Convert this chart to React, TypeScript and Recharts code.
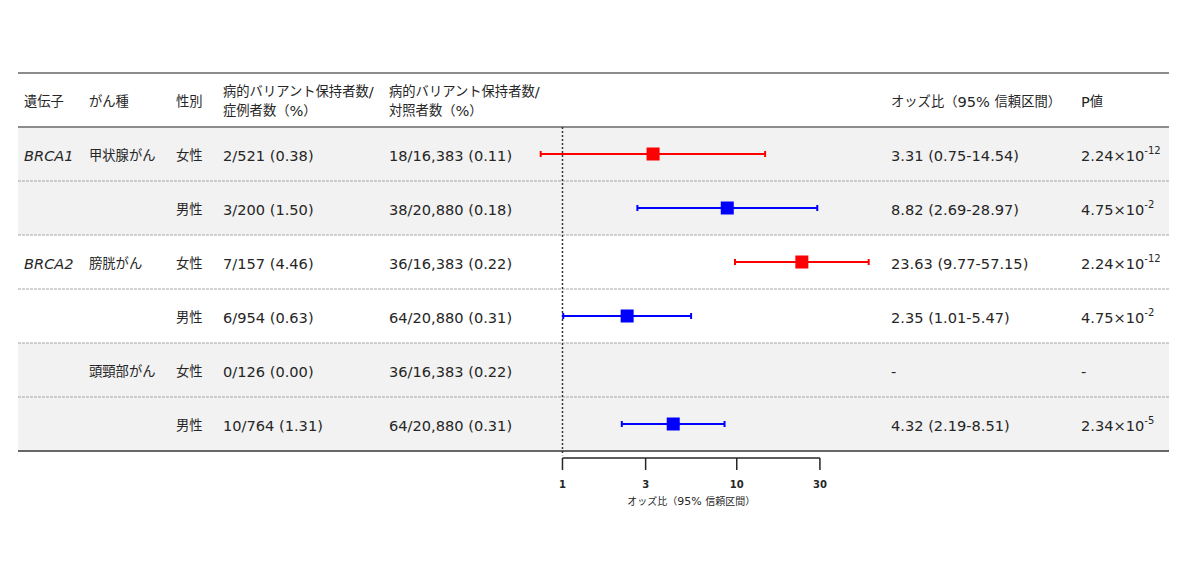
import React from 'react';
import {
  ScatterChart, Scatter, XAxis, YAxis, ErrorBar, ReferenceArea, ReferenceLine,
} from 'recharts';

// ---- data ----
const genes = ['BRCA1', '', 'BRCA2', '', '', ''];
const cancers = ['甲状腺がん', '', '膀胱がん', '', '頭頸部がん', ''];
const sexes = ['女性', '男性', '女性', '男性', '女性', '男性'];
const caseCounts = ['2/521 (0.38)', '3/200 (1.50)', '7/157 (4.46)', '6/954 (0.63)', '0/126 (0.00)', '10/764 (1.31)'];
const controlCounts = ['18/16,383 (0.11)', '38/20,880 (0.18)', '36/16,383 (0.22)', '64/20,880 (0.31)', '36/16,383 (0.22)', '64/20,880 (0.31)'];
const oddsRatios: (number | null)[] = [3.31, 8.82, 23.63, 2.35, null, 4.32];
const ciLows: (number | null)[] = [0.75, 2.69, 9.77, 1.01, null, 2.19];
const ciHighs: (number | null)[] = [14.54, 28.97, 57.15, 5.47, null, 8.51];
const pMantissas: (string | null)[] = ['2.24', '4.75', '2.24', '4.75', null, '2.34'];
const pExponents: (string | null)[] = ['-12', '-2', '-12', '-2', null, '-5'];
const shadedRows = [0, 1, 4, 5];
const xTicks = [1, 3, 10, 30];

const headers = {
  gene: '遺伝子',
  cancer: 'がん種',
  sex: '性別',
  case: ['病的バリアント保持者数/', '症例者数（%）'],
  control: ['病的バリアント保持者数/', '対照者数（%）'],
  or: 'オッズ比（95% 信頼区間）',
  p: 'P値',
};
const axisTitle = 'オッズ比（95% 信頼区間）';

// ---- layout ----
const W = 1200;
const H = 566;
const LOG_MIN = -3.124;
const LOG_MAX = 3.48;
const NROWS = sexes.length;
const COL = { gene: 24, cancer: 89, sex: 176, case: 223, control: 389, or: 891, p: 1081 };
const FONT = "'DejaVu Sans','Noto Sans CJK JP',sans-serif";
const TEXT_COLOR = '#262626';
const RED = '#ff0000';
const BLUE = '#0000ff';

const rowData = sexes.map((s, i) => ({
  y: i + 1.5,
  or: oddsRatios[i],
  err: oddsRatios[i] != null ? [oddsRatios[i]! - ciLows[i]!, ciHighs[i]! - oddsRatios[i]!] : null,
  sex: s,
}));
const femaleData = rowData.filter((d) => d.sex === '女性' && d.or != null);
const maleData = rowData.filter((d) => d.sex === '男性' && d.or != null);

const CJK_RE = /[\u3000-\u9fff\uff00-\uffef]+|[^\u3000-\u9fff\uff00-\uffef]+/g;
const isCJK = (s: string) => /[\u3000-\u9fff\uff00-\uffef]/.test(s);

function MixedText({ x, y, text, latin = 14.6, cjk = 13.3, italic = false, weight = 'normal', anchor = 'start' }: any) {
  const runs: string[] = text.match(CJK_RE) || [];
  return (
    <text x={x} y={y} dominantBaseline="central" fill={TEXT_COLOR} fontFamily={FONT}
      fontStyle={italic ? 'italic' : 'normal'} fontWeight={weight} textAnchor={anchor}>
      {runs.map((r, k) => (
        <tspan key={k} fontSize={isCJK(r) ? cjk : latin}>{r}</tspan>
      ))}
    </text>
  );
}

function RowTick(props: any) {
  const { y, payload } = props;
  const v = payload.value;
  const idx = Math.floor(v) - 1;
  if (idx < 0) {
    return (
      <g>
        <MixedText x={COL.gene} y={y + 1} text={headers.gene} />
        <MixedText x={COL.cancer} y={y + 1} text={headers.cancer} />
        <MixedText x={COL.sex} y={y + 1} text={headers.sex} />
        <MixedText x={COL.case} y={y - 9} text={headers.case[0]} />
        <MixedText x={COL.case} y={y + 10} text={headers.case[1]} />
        <MixedText x={COL.control} y={y - 9} text={headers.control[0]} />
        <MixedText x={COL.control} y={y + 10} text={headers.control[1]} />
        <MixedText x={COL.or} y={y + 1} text={headers.or} />
        <MixedText x={COL.p} y={y + 1} text={headers.p} />
      </g>
    );
  }
  const or = oddsRatios[idx];
  const orText = or != null ? `${or.toFixed(2)} (${ciLows[idx]!.toFixed(2)}-${ciHighs[idx]!.toFixed(2)})` : '-';
  return (
    <g>
      {genes[idx] && <MixedText x={COL.gene} y={y + 1} text={genes[idx]} italic />}
      {cancers[idx] && <MixedText x={COL.cancer} y={y + 1} text={cancers[idx]} />}
      <MixedText x={COL.sex} y={y + 1} text={sexes[idx]} />
      <MixedText x={COL.case} y={y + 1} text={caseCounts[idx]} />
      <MixedText x={COL.control} y={y + 1} text={controlCounts[idx]} />
      <MixedText x={COL.or} y={y + 1} text={orText} />
      {pMantissas[idx] != null ? (
        <text x={COL.p} y={y + 1} dominantBaseline="central" fill={TEXT_COLOR} fontFamily={FONT} fontSize={14.6}>
          {`${pMantissas[idx]}×10`}
          <tspan fontSize={10} dy={-5}>{pExponents[idx]}</tspan>
        </text>
      ) : (
        <MixedText x={COL.p} y={y + 1} text="-" />
      )}
    </g>
  );
}

function AxisTick(props: any) {
  const { x, y, payload } = props;
  return (
    <g>
      <line x1={x} x2={x} y1={y + 7} y2={y + 19} stroke="#262626" strokeWidth={1.5} />
      <text x={x} y={y + 33} textAnchor="middle" dominantBaseline="central" fontFamily={FONT}
        fontSize={10} fontWeight="bold" fill="#262626">{payload.value}</text>
    </g>
  );
}

const square = (color: string) => (p: any) => (
  <rect x={p.cx - 6.5} y={p.cy - 6.5} width={13} height={13} fill={color} />
);

export default function App() {
  return (
    <div style={{ position: 'absolute', left: 0, top: 0, width: W, height: H, background: '#fff' }}>
      <ScatterChart width={W} height={H} margin={{ top: 73, right: 31, left: 17, bottom: 85 }}>
        <XAxis dataKey="or" type="number" scale="log" domain={[10 ** LOG_MIN, 10 ** LOG_MAX]}
          allowDataOverflow ticks={xTicks} interval={0} axisLine={false} tickLine={false}
          tickSize={0} tickMargin={0} height={30} tick={<AxisTick />} />
        <YAxis dataKey="y" type="number" domain={[0, NROWS + 1]} reversed allowDataOverflow
          ticks={[0.5, ...sexes.map((_, i) => i + 1.5)]} interval={0} axisLine={false}
          tickLine={false} width={1} tick={<RowTick />} />
        {shadedRows.map((r) => (
          <ReferenceArea key={r} y1={r + 1} y2={r + 2} fill="#f2f2f2" fillOpacity={1} stroke="none" ifOverflow="visible" />
        ))}
        {[2, 3, 4, 5, 6].map((b) => (
          <ReferenceLine key={b} y={b} stroke="#a6a6a6" strokeWidth={1} strokeDasharray="3 1" />
        ))}
        <ReferenceLine y={0} stroke="#8c8c8c" strokeWidth={2} />
        <ReferenceLine y={1} stroke="#8c8c8c" strokeWidth={2} />
        <ReferenceLine y={NROWS + 1} stroke="#666666" strokeWidth={2} />
        <ReferenceLine segment={[{ x: 1, y: 1 }, { x: 1, y: NROWS + 1.08 }]} stroke="#333333"
          strokeWidth={1.5} strokeDasharray="2 2" ifOverflow="visible" />
        <ReferenceLine segment={[{ x: xTicks[0], y: NROWS + 1.13 }, { x: xTicks[xTicks.length - 1], y: NROWS + 1.13 }]}
          stroke="#262626" strokeWidth={1.5} ifOverflow="visible"
          label={{
            content: (lp: any) => {
              const vb = lp.viewBox || {};
              return <MixedText x={vb.x + vb.width / 2} y={vb.y + 43} text={axisTitle} latin={11} cjk={10} anchor="middle" />;
            },
          }} />
        <Scatter data={femaleData} isAnimationActive={false} shape={square(RED)}>
          <ErrorBar dataKey="err" direction="x" width={3} stroke={RED} strokeWidth={2} isAnimationActive={false} />
        </Scatter>
        <Scatter data={maleData} isAnimationActive={false} shape={square(BLUE)}>
          <ErrorBar dataKey="err" direction="x" width={3} stroke={BLUE} strokeWidth={2} isAnimationActive={false} />
        </Scatter>
      </ScatterChart>
    </div>
  );
}
